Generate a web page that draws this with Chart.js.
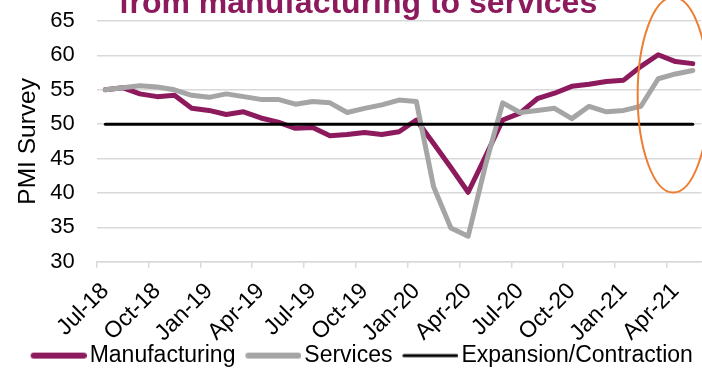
<!DOCTYPE html>
<html>
<head>
<meta charset="utf-8">
<script src="https://cdn.jsdelivr.net/npm/chart.js@4.4.0/dist/chart.umd.min.js"></script>
<style>
  html, body { margin: 0; padding: 0; overflow: hidden; background: #fff; }
</style>
</head>
<body>
<canvas id="pmiChart" width="716" height="370"></canvas>
<script>
// monthly PMI readings, Jul-18 .. May-21
const months = [
  'Jul-18', 'Aug-18', 'Sep-18', 'Oct-18', 'Nov-18', 'Dec-18',
  'Jan-19', 'Feb-19', 'Mar-19', 'Apr-19', 'May-19', 'Jun-19',
  'Jul-19', 'Aug-19', 'Sep-19', 'Oct-19', 'Nov-19', 'Dec-19',
  'Jan-20', 'Feb-20', 'Mar-20', 'Apr-20', 'May-20', 'Jun-20',
  'Jul-20', 'Aug-20', 'Sep-20', 'Oct-20', 'Nov-20', 'Dec-20',
  'Jan-21', 'Feb-21', 'Mar-21', 'Apr-21', 'May-21'
];
const manufacturing = [
  55.0, 55.3, 54.4, 54.0, 54.2, 52.3, 52.0, 51.4, 51.8, 50.9, 50.3, 49.4,
  49.5, 48.3, 48.5, 48.8, 48.5, 48.9, 50.6, 47.2, 43.7, 40.1, 45.3, 50.6,
  51.6, 53.7, 54.5, 55.5, 55.8, 56.2, 56.4, 58.4, 60.1, 59.1, 58.8
];
const services = [
  55.0, 55.3, 55.6, 55.4, 55.0, 54.2, 53.9, 54.4, 54.0, 53.6, 53.6, 52.9,
  53.3, 53.1, 51.7, 52.3, 52.8, 53.5, 53.3, 40.9, 34.9, 33.7, 44.0, 53.1,
  51.7, 52.0, 52.3, 50.8, 52.6, 51.8, 52.0, 52.6, 56.6, 57.3, 57.8
];
const threshold = months.map(() => 50);
const yTicks = [30, 35, 40, 45, 50, 55, 60, 65];

const FONT = 'Liberation Sans, Arial, sans-serif';
const PURPLE = '#8C1A5C';
const GREY = '#A5A5A5';
const GRID = '#D9D9D9';

// legend swatch: 56px line sitting in the right part of a wider transparent image
function swatch(color, thick) {
  const c = document.createElement('canvas');
  c.width = 72; c.height = 8;
  const g = c.getContext('2d');
  g.strokeStyle = color;
  g.lineWidth = thick;
  g.lineCap = 'round';
  g.beginPath();
  g.moveTo(16 + thick / 2, 4);
  g.lineTo(72 - thick / 2, 4);
  g.stroke();
  return c;
}

// orange ring round the latest readings (in month index / PMI units)
const ring = { month: 32.87, value: 54.25, halfMonths: 2.06, halfPoints: 14.2 };
const ringPlugin = {
  id: 'ring',
  afterDatasetsDraw(chart) {
    const { ctx, scales: { x, y } } = chart;
    const cx = x.getPixelForValue(ring.month);
    const cy = y.getPixelForValue(ring.value);
    const rx = x.getPixelForValue(ring.month + ring.halfMonths) - cx;
    const ry = cy - y.getPixelForValue(ring.value + ring.halfPoints);
    ctx.save();
    ctx.beginPath();
    ctx.ellipse(cx, cy, rx, ry, 0, 0, Math.PI * 2);
    ctx.strokeStyle = '#ED7D31';
    ctx.lineWidth = 2;
    ctx.stroke();
    ctx.restore();
  }
};

const ctx = document.getElementById('pmiChart').getContext('2d');
new Chart(ctx, {
  type: 'line',
  data: {
    labels: months,
    datasets: [
      { label: 'Manufacturing', data: manufacturing, borderColor: PURPLE, backgroundColor: PURPLE,
        borderWidth: 5, order: 2, legendThick: 6 },
      { label: 'Services', data: services, borderColor: GREY, backgroundColor: GREY,
        borderWidth: 5, order: 1, legendThick: 6 },
      { label: 'Expansion/Contraction', data: threshold, borderColor: '#000', backgroundColor: '#000',
        borderWidth: 3, order: 0, legendThick: 3 }
    ]
  },
  options: {
    responsive: false,
    animation: false,
    devicePixelRatio: 1,
    layout: { padding: { left: 14.6, right: 14.6, top: 0, bottom: -7.1 } },
    elements: {
      point: { radius: 0 },
      line: { tension: 0, borderCapStyle: 'round', borderJoinStyle: 'round' }
    },
    plugins: {
      tooltip: { enabled: false },
      title: {
        display: true,
        text: 'from manufacturing to services',
        color: PURPLE,
        // small line height so the heading sits half above the page edge
        font: { family: FONT, size: 32, weight: 'bold', lineHeight: 0.25 },
        padding: { top: 0, bottom: 13 }
      },
      legend: {
        position: 'bottom',
        labels: {
          usePointStyle: true,
          pointStyleWidth: 55,
          padding: 2.4,
          color: '#000',
          font: { family: FONT, size: 23 },
          generateLabels: chart => chart.data.datasets.map((ds, i) => ({
            text: ds.label,
            datasetIndex: i,
            pointStyle: swatch(ds.borderColor, ds.legendThick),
            fillStyle: ds.borderColor,
            strokeStyle: ds.borderColor,
            lineWidth: 0,
            hidden: false
          }))
        }
      }
    },
    scales: {
      x: {
        offset: true,
        grid: {
          offset: true,
          drawOnChartArea: false,
          drawTicks: true,
          tickLength: 6,
          lineWidth: 1.5,
          tickColor: c => (c.index % 3 === 0 ? GRID : 'transparent')
        },
        border: { color: GRID, width: 1.5 },
        ticks: {
          autoSkip: false,
          minRotation: 45,
          maxRotation: 45,
          padding: 10,
          color: '#000',
          font: { family: FONT, size: 23 },
          callback: (v, i) => (i % 3 === 0 ? months[i] : '')
        },
        afterFit: s => { s.height = 80; s.paddingLeft = 0; s.paddingRight = 0; }
      },
      y: {
        min: 30,
        max: 65,
        afterBuildTicks: s => { s.ticks = yTicks.map(v => ({ value: v })); },
        grid: { color: GRID, lineWidth: 1.5, drawTicks: false },
        border: { display: false },
        ticks: { padding: 22, color: '#000', font: { family: FONT, size: 22 } },
        title: {
          display: true,
          text: 'PMI Survey',
          color: '#000',
          font: { family: FONT, size: 24.5, lineHeight: 1 },
          padding: { top: 1, bottom: 0 }
        },
        afterFit: s => { s.width = 82.1; s.paddingTop = 0; s.paddingBottom = 0; }
      }
    }
  },
  plugins: [ringPlugin]
});
</script>
</body>
</html>
